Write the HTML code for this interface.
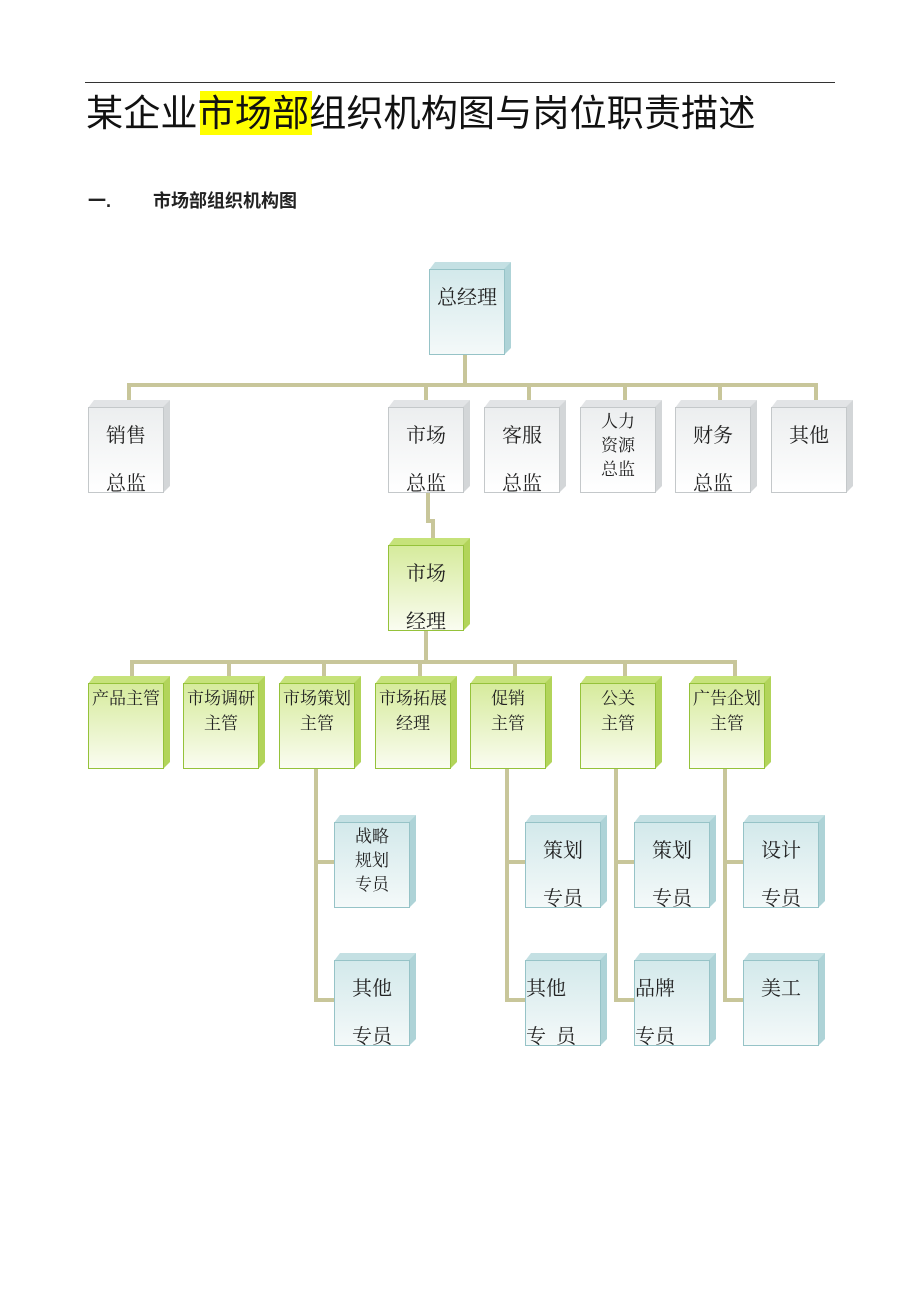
<!DOCTYPE html>
<html><head><meta charset="utf-8"><style>
body{margin:0;width:920px;height:1302px;background:#fff;position:relative;overflow:hidden;font-family:"Liberation Serif","Noto Serif CJK SC","Noto Sans CJK SC",serif;color:#222}
div{position:absolute;box-sizing:border-box}
.l{background:#c8c69a}
.f{border:1px solid}
.tp{clip-path:polygon(0 100%,6px 0,100% 0,calc(100% - 6px) 100%)}
.sd{clip-path:polygon(0 7px,100% 0,100% calc(100% - 7px),0 100%)}
.t{text-align:center;white-space:nowrap;line-height:1}
</style></head><body>
<div style="left:85px;top:82px;width:750px;height:1px;background:#333"></div>
<div style="left:200px;top:91px;width:112px;height:44px;background:#ffff00"></div>
<div style="left:86px;top:92px;font-size:37.2px;line-height:42px;font-family:'Liberation Sans','Noto Sans CJK SC',sans-serif;color:#111;white-space:nowrap">某企业市场部组织机构图与岗位职责描述</div>
<div style="left:88px;top:187px;font-size:18px;font-weight:bold;font-family:'Liberation Sans','Noto Sans CJK SC',sans-serif;white-space:nowrap">一.</div>
<div style="left:153px;top:187px;font-size:18px;font-weight:bold;font-family:'Liberation Sans','Noto Sans CJK SC',sans-serif;white-space:nowrap">市场部组织机构图</div>

<div class="l" style="left:463px;top:352px;width:4px;height:34px"></div>
<div class="l" style="left:130px;top:383px;width:688px;height:4px"></div>
<div class="l" style="left:127px;top:383px;width:4px;height:18px"></div>
<div class="l" style="left:424px;top:383px;width:4px;height:18px"></div>
<div class="l" style="left:527px;top:383px;width:4px;height:18px"></div>
<div class="l" style="left:623px;top:383px;width:4px;height:18px"></div>
<div class="l" style="left:718px;top:383px;width:4px;height:18px"></div>
<div class="l" style="left:814px;top:383px;width:4px;height:18px"></div>
<div class="l" style="left:426px;top:492px;width:4px;height:30px"></div>
<div class="l" style="left:426px;top:519px;width:9px;height:4px"></div>
<div class="l" style="left:431px;top:519px;width:4px;height:20px"></div>
<div class="l" style="left:424px;top:630px;width:4px;height:33px"></div>
<div class="l" style="left:130px;top:660px;width:607px;height:4px"></div>
<div class="l" style="left:130px;top:660px;width:4px;height:17px"></div>
<div class="l" style="left:227px;top:660px;width:4px;height:17px"></div>
<div class="l" style="left:322px;top:660px;width:4px;height:17px"></div>
<div class="l" style="left:418px;top:660px;width:4px;height:17px"></div>
<div class="l" style="left:513px;top:660px;width:4px;height:17px"></div>
<div class="l" style="left:623px;top:660px;width:4px;height:17px"></div>
<div class="l" style="left:733px;top:660px;width:4px;height:17px"></div>
<div class="l" style="left:314px;top:768px;width:4px;height:234px"></div>
<div class="l" style="left:314px;top:860px;width:22px;height:4px"></div>
<div class="l" style="left:314px;top:998px;width:22px;height:4px"></div>
<div class="l" style="left:505px;top:768px;width:4px;height:234px"></div>
<div class="l" style="left:505px;top:860px;width:22px;height:4px"></div>
<div class="l" style="left:505px;top:998px;width:22px;height:4px"></div>
<div class="l" style="left:614px;top:768px;width:4px;height:234px"></div>
<div class="l" style="left:614px;top:860px;width:22px;height:4px"></div>
<div class="l" style="left:614px;top:998px;width:22px;height:4px"></div>
<div class="l" style="left:723px;top:768px;width:4px;height:234px"></div>
<div class="l" style="left:723px;top:860px;width:22px;height:4px"></div>
<div class="l" style="left:723px;top:998px;width:22px;height:4px"></div>

<script>
const T={c:'#d3e9eb',c2:'#f4f9f9',b:'#96c3c7',top:'#c4e0e3',side:'#aed3d7'};
const G={c:'#eceeef',c2:'#ffffff',b:'#c4c8ca',top:'#e2e4e6',side:'#d3d6d8'};
const N={c:'#d6eb9c',c2:'#fafcf0',b:'#95c23a',top:'#c6e27a',side:'#b2d45a'};
function box(x,y,s,lines,fs,offs,left){
 let w=82,h=93,h2='';
 h2+=`<div class="tp" style="left:${x}px;top:${y}px;width:${w}px;height:8px;background:${s.top}"></div>`;
 h2+=`<div class="sd" style="left:${x+w-7}px;top:${y}px;width:7px;height:${h}px;background:${s.side}"></div>`;
 h2+=`<div class="f" style="left:${x}px;top:${y+7}px;width:${w-6}px;height:${h-7}px;border-color:${s.b};background:linear-gradient(${s.c},${s.c2})"></div>`;
 lines.forEach((t,i)=>{h2+=`<div class="t" style="left:${x+(left?1:0)}px;top:${y+offs[i]}px;width:${w-6}px;font-size:${fs}px;${left?'text-align:left':''}">${t}</div>`});
 document.body.insertAdjacentHTML('beforeend',h2);
}
const L2=[26,74],L3=[14,39],L3b=[13,37,61];
box(429,262,T,['总经理'],20,[26]);
box(88,400,G,['销售','总监'],20,L2);
box(388,400,G,['市场','总监'],20,L2);
box(484,400,G,['客服','总监'],20,L2);
box(580,400,G,['人力','资源','总监'],17,L3b);
box(675,400,G,['财务','总监'],20,L2);
box(771,400,G,['其他'],20,[26]);
box(388,538,N,['市场','经理'],20,L2);
box(88,676,N,['产品主管'],17,L3);
box(183,676,N,['市场调研','主管'],17,L3);
box(279,676,N,['市场策划','主管'],17,L3);
box(375,676,N,['市场拓展','经理'],17,L3);
box(470,676,N,['促销','主管'],17,L3);
box(580,676,N,['公关','主管'],17,L3);
box(689,676,N,['广告企划','主管'],17,L3);
box(334,815,T,['战略','规划','专员'],17,L3b);
box(525,815,T,['策划','专员'],20,L2);
box(634,815,T,['策划','专员'],20,L2);
box(743,815,T,['设计','专员'],20,L2);
box(334,953,T,['其他','专员'],20,L2);
box(525,953,T,['其他','专&nbsp;&nbsp;员'],20,L2,1);
box(634,953,T,['品牌','专员'],20,L2,1);
box(743,953,T,['美工'],20,[26]);
</script>
</body></html>
